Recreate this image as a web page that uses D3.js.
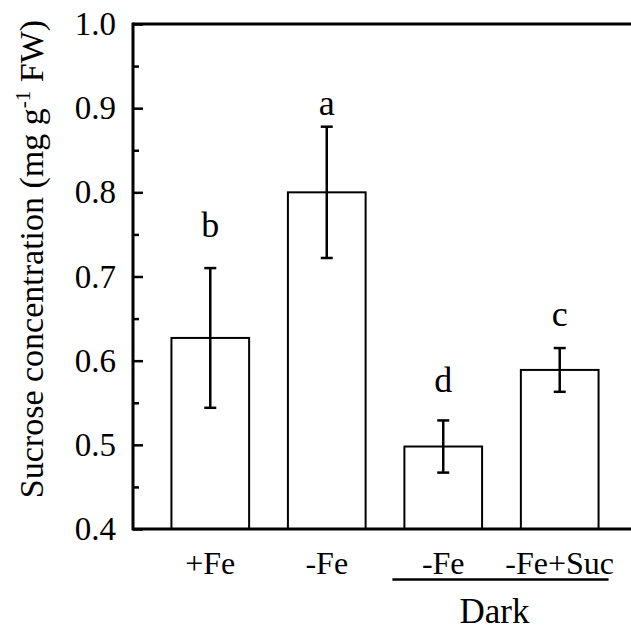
<!DOCTYPE html>
<html>
<head>
<meta charset="utf-8">
<script src="https://cdn.jsdelivr.net/npm/d3@7"></script>
<style>
  body { margin: 0; background: #fff; }
  svg text { font-family: "Liberation Serif", "Times New Roman", serif; fill: #000; }
</style>
</head>
<body>
<script>
// data
var groups = ["+Fe", "-Fe", "-Fe ", "-Fe+Suc"]
var labels = ["+Fe", "-Fe", "-Fe", "-Fe+Suc"]
var means = [0.627, 0.800, 0.498, 0.589]
var errs = [0.083, 0.078, 0.031, 0.026]
var letters = ["b", "a", "d", "c"]
var letterY = [0.747, 0.892, 0.563, 0.641]
var majorTicks = [0.4, 0.5, 0.6, 0.7, 0.8, 0.9, 1.0]
var minorTicks = [0.45, 0.55, 0.65, 0.75, 0.85, 0.95]

var width = 631, height = 631
var margin = { left: 133, right: 0, top: 24, bottom: 102 }
var serif = "Liberation Serif, Times New Roman, serif"

var svg = d3.select("body").append("svg")
  .attr("width", width)
  .attr("height", height)

var y = d3.scaleLinear()
  .domain([0.4, 1.0])
  .range([height - margin.bottom, margin.top])

var x = d3.scaleBand()
  .domain(groups)
  .range([margin.left, 637])
  .paddingInner(0.333)
  .paddingOuter(0.33)

// bars
svg.selectAll("rect.bar")
  .data(groups)
  .enter().append("rect")
  .attr("class", "bar")
  .attr("x", function (d) { return x(d) })
  .attr("width", x.bandwidth())
  .attr("y", function (d, i) { return y(means[i]) })
  .attr("height", function (d, i) { return y(0.4) - y(means[i]) })
  .attr("fill", "#fff")
  .attr("stroke", "#000")
  .attr("stroke-width", 2)

// error bars
var eb = svg.selectAll("g.err")
  .data(groups)
  .enter().append("g")
  .attr("class", "err")
  .attr("stroke", "#000")
  .attr("stroke-width", 2.5)

eb.append("line")
  .attr("x1", function (d) { return x(d) + x.bandwidth() / 2 })
  .attr("x2", function (d) { return x(d) + x.bandwidth() / 2 })
  .attr("y1", function (d, i) { return y(means[i] + errs[i]) })
  .attr("y2", function (d, i) { return y(means[i] - errs[i]) })

eb.append("line")
  .attr("x1", function (d) { return x(d) + x.bandwidth() / 2 - 6 })
  .attr("x2", function (d) { return x(d) + x.bandwidth() / 2 + 6 })
  .attr("y1", function (d, i) { return y(means[i] + errs[i]) })
  .attr("y2", function (d, i) { return y(means[i] + errs[i]) })

eb.append("line")
  .attr("x1", function (d) { return x(d) + x.bandwidth() / 2 - 6 })
  .attr("x2", function (d) { return x(d) + x.bandwidth() / 2 + 6 })
  .attr("y1", function (d, i) { return y(means[i] - errs[i]) })
  .attr("y2", function (d, i) { return y(means[i] - errs[i]) })

// significance letters
svg.selectAll("text.letter")
  .data(groups)
  .enter().append("text")
  .attr("class", "letter")
  .attr("x", function (d) { return x(d) + x.bandwidth() / 2 })
  .attr("y", function (d, i) { return y(letterY[i]) })
  .attr("text-anchor", "middle")
  .attr("font-family", serif)
  .style("font-size", "36px")
  .text(function (d, i) { return letters[i] })

// y axis, ticks pointing inward
var yAxis = svg.append("g")
  .attr("transform", "translate(" + margin.left + ",0)")
  .call(d3.axisLeft(y).tickValues(majorTicks).tickSize(-10).tickPadding(17)
    .tickFormat(d3.format(".1f")))
yAxis.attr("font-family", serif)
yAxis.select(".domain").remove()
yAxis.selectAll("line").attr("stroke-width", 2.5)
yAxis.selectAll("text")
  .style("font-size", "33px")

var yMinor = svg.append("g")
  .attr("transform", "translate(" + margin.left + ",0)")
  .call(d3.axisLeft(y).tickValues(minorTicks).tickSize(-6).tickFormat(""))
yMinor.select(".domain").remove()
yMinor.selectAll("line").attr("stroke-width", 2.5)

// frame: left, top and bottom lines
svg.append("line")
  .attr("x1", margin.left).attr("x2", margin.left)
  .attr("y1", y(1.0) - 1.5).attr("y2", y(0.4) + 1.5)
  .attr("stroke", "#000").attr("stroke-width", 3)
svg.append("line")
  .attr("x1", margin.left).attr("x2", width)
  .attr("y1", y(1.0)).attr("y2", y(1.0))
  .attr("stroke", "#000").attr("stroke-width", 3)
svg.append("line")
  .attr("x1", margin.left).attr("x2", width)
  .attr("y1", y(0.4)).attr("y2", y(0.4))
  .attr("stroke", "#000").attr("stroke-width", 3)

// x labels
svg.selectAll("text.xlab")
  .data(groups)
  .enter().append("text")
  .attr("class", "xlab")
  .attr("x", function (d) { return x(d) + x.bandwidth() / 2 })
  .attr("y", 574)
  .attr("text-anchor", "middle")
  .attr("font-family", serif)
  .style("font-size", "32px")
  .text(function (d, i) { return labels[i] })

// "Dark" bracket under the last two groups
svg.append("line")
  .attr("x1", x(groups[2]) - 12).attr("x2", x(groups[3]) + x.bandwidth() + 10)
  .attr("y1", 579.5).attr("y2", 579.5)
  .attr("stroke", "#000").attr("stroke-width", 2.5)
svg.append("text")
  .attr("x", (x(groups[2]) + x(groups[3]) + x.bandwidth()) / 2 - 7)
  .attr("y", 623)
  .attr("text-anchor", "middle")
  .attr("font-family", serif)
  .style("font-size", "35px")
  .text("Dark")

// y axis title
var yt = svg.append("text")
  .attr("transform", "translate(43," + 259 + ") rotate(-90)")
  .attr("text-anchor", "middle")
  .attr("font-family", serif)
  .style("font-size", "34px")
yt.append("tspan").text("Sucrose concentration (mg g")
yt.append("tspan").attr("dy", -13).style("font-size", "21px").text("-1")
yt.append("tspan").attr("dy", 13).text(" FW)")
</script>
</body>
</html>
